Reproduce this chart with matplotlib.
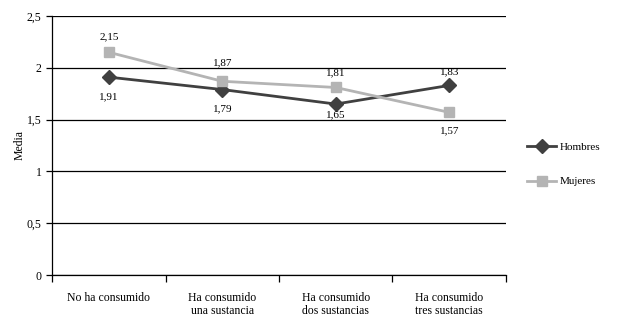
import numpy as np
import matplotlib.pyplot as plt

categorias = ["No ha consumido", "Ha consumido\nuna sustancia", "Ha consumido\ndos sustancias", "Ha consumido\ntres sustancias"]
hombres = [1.91, 1.79, 1.65, 1.83]
mujeres = [2.15, 1.87, 1.81, 1.57]
yticks = [0, 0.5, 1, 1.5, 2, 2.5]
ytick_labels = ["0", "0,5", "1", "1,5", "2", "2,5"]

# label offsets in points (positive = above the marker)
off_h = [-14, -14, -8, 9.5]
off_m = [11, 13, 10.5, -13.5]

plt.rcParams['font.family'] = ['Liberation Serif', 'DejaVu Serif']

fig = plt.figure(figsize=(6.36, 3.24), dpi=100)
ax = fig.add_axes([52 / 636, 1 - 275 / 324, (506 - 52) / 636, (275 - 16) / 324])

x = np.arange(len(categorias))
ax.plot(x, hombres, color="#404040", lw=2, marker="D", ms=7, label="Hombres", zorder=3)
ax.plot(x, mujeres, color="#b4b4b4", lw=2, marker="s", ms=7, label="Mujeres", zorder=3)

for i in range(len(x)):
    ax.annotate(("%.2f" % hombres[i]).replace(".", ","), (x[i], hombres[i]), xytext=(0, off_h[i]),
                textcoords="offset points", ha="center", va="center", fontsize=8)
    ax.annotate(("%.2f" % mujeres[i]).replace(".", ","), (x[i], mujeres[i]), xytext=(0, off_m[i]),
                textcoords="offset points", ha="center", va="center", fontsize=8)

ax.set_xlim(-0.5, 3.5)
ax.set_ylim(0, 2.5)
ax.set_yticks(yticks)
ax.set_yticklabels(ytick_labels, fontsize=8.5)
ax.yaxis.grid(True, color="black", lw=0.9)
ax.set_axisbelow(True)

ax.set_xticks(np.arange(-0.5, 4, 1))
ax.set_xticklabels([])
ax.set_xticks(x, minor=True)
ax.set_xticklabels(categorias, minor=True, fontsize=8.5)
ax.tick_params(axis="x", which="minor", length=0, pad=12)
ax.tick_params(axis="x", which="major", length=5, width=0.9, direction="out")
ax.tick_params(axis="y", length=4, width=0.9, direction="out")

for s in ["top", "right"]:
    ax.spines[s].set_visible(False)
ax.spines["left"].set_linewidth(0.9)
ax.spines["bottom"].set_linewidth(0.9)

ax.set_ylabel("Media", fontsize=8.5, labelpad=1)

ax.legend(loc="center left", bbox_to_anchor=(1.025, 0.427), frameon=False, fontsize=8,
          labelspacing=2.2, handlelength=2.6, handletextpad=0.3)

fig.savefig("out.png", dpi=100)
